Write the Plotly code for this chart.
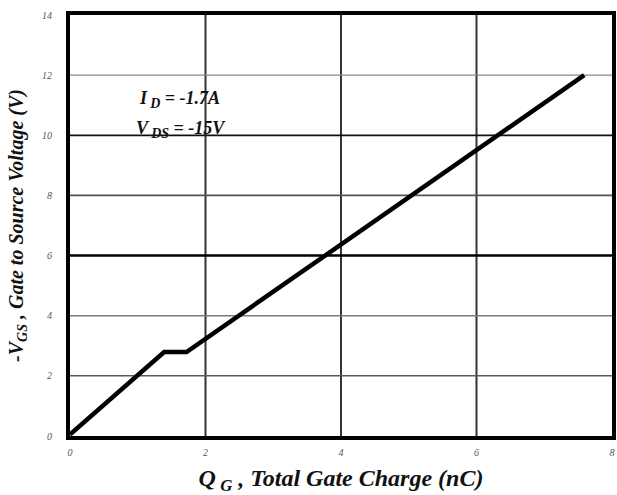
import plotly.graph_objects as go

# Gate charge curve: Q_G (nC) vs -V_GS (V)
q_g = [0.0, 1.39, 1.72, 7.59]
v_gs = [0.05, 2.79, 2.79, 12.0]

x_ticks = [0, 2, 4, 6, 8]
y_ticks = [0, 2, 4, 6, 8, 10, 12, 14]

# grid line styling per level
x_grid = [2, 4, 6]
x_grid_colors = ["#333333", "#333333", "#333333"]
x_grid_widths = [2, 2, 2]
y_grid = [2, 4, 6, 8, 10, 12]
y_grid_colors = ["#5a5a5a", "#7a7a7a", "#000000", "#555555", "#111111", "#8a8a8a"]
y_grid_widths = [1.5, 1.5, 2.5, 1.8, 1.8, 1.3]

serif = "Liberation Serif, Times New Roman, serif"

fig = go.Figure()
fig.add_trace(go.Scatter(
    x=q_g, y=v_gs, mode="lines",
    line=dict(color="black", width=4.5),
    hoverinfo="skip", showlegend=False,
))

shapes = []
for xv, c, w in zip(x_grid, x_grid_colors, x_grid_widths):
    shapes.append(dict(type="line", xref="x", yref="paper", x0=xv, x1=xv, y0=0, y1=1,
                       line=dict(color=c, width=w), layer="below"))
for yv, c, w in zip(y_grid, y_grid_colors, y_grid_widths):
    shapes.append(dict(type="line", xref="paper", yref="y", x0=0, x1=1, y0=yv, y1=yv,
                       line=dict(color=c, width=w), layer="below"))

sub_style = "font-size:14px"
annotations = [
    dict(x=0.99, y=11.2, xref="x", yref="y", xanchor="left", yanchor="middle",
         text=f"<b><i>I<sub> <span style='{sub_style}'>D</span></sub> = -1.7A</i></b>",
         showarrow=False, font=dict(family=serif, size=18, color="#111")),
    dict(x=0.95, y=10.2, xref="x", yref="y", xanchor="left", yanchor="middle",
         text=f"<b><i>V<sub> <span style='{sub_style}'>DS</span></sub> = -15V</i></b>",
         showarrow=False, font=dict(family=serif, size=18, color="#111")),
]

fig.update_layout(
    width=617, height=495,
    margin=dict(l=70, r=1, t=15, b=59),
    paper_bgcolor="white", plot_bgcolor="white",
    shapes=shapes, annotations=annotations,
    xaxis=dict(
        range=[0, 8], tickvals=x_ticks, ticktext=[str(v) for v in x_ticks],
        showgrid=False, zeroline=False,
        showline=True, linecolor="black", linewidth=4, mirror=True,
        ticks="", ticklabelstandoff=4,
        tickfont=dict(family=serif, size=10, color="#555", style="italic"),
        title=dict(text="<b><i>Q<sub> G</sub> , Total Gate Charge (nC)</i></b>",
                   font=dict(family=serif, size=24, color="#111"), standoff=13),
    ),
    yaxis=dict(
        range=[0, 14], tickvals=y_ticks, ticktext=[str(v) for v in y_ticks],
        showgrid=False, zeroline=False,
        showline=True, linecolor="black", linewidth=4, mirror=True,
        ticks="", ticklabelstandoff=12,
        tickfont=dict(family=serif, size=10, color="#555", style="italic"),
        title=dict(text="<b><i>-V<sub>GS</sub> , Gate to Source Voltage (V)</i></b>",
                   font=dict(family=serif, size=20, color="#111"), standoff=14),
    ),
)

fig.write_html("out.html")
